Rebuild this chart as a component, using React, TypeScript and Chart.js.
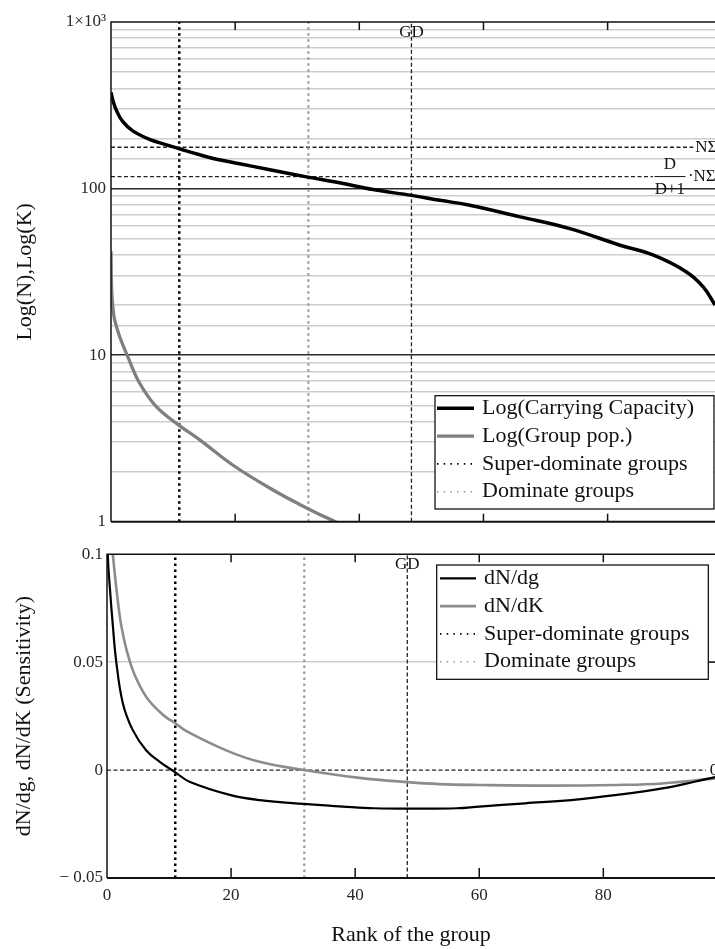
import React, { useEffect, useRef } from 'react';
import { Chart, registerables } from 'chart.js';

Chart.register(...registerables);

const SERIF = '"Liberation Serif", "Times New Roman", Times, serif';

// ---------- Top panel: Log(K) and Log(N) versus rank ----------
const rankCapacity = [0, 0.3, 0.9, 1.87, 3.5, 6.2, 8.95, 11.05, 14.3, 17, 20.7, 25, 31.5, 37, 42.2, 48.4, 53, 57.8, 65.9, 73.9, 82, 87.4, 92.7, 95.4, 97.3, 98];
const carryingCapacity = [378, 339, 293, 253, 222, 197.5, 183, 173.3, 159.5, 150, 141, 131, 117.5, 108, 98.6, 91, 85, 79.4, 67.6, 57.5, 45.7, 39.8, 31.6, 25.7, 20, 18];
const rankPopulation = [0, 0.1, 0.3, 0.6, 1.4, 2.7, 4.6, 7.3, 10.9, 14.3, 19.6, 26.1, 31.5, 36.1, 38];
const groupPopulation = [42, 25, 19.4, 16.2, 12.9, 9.8, 6.8, 4.9, 3.8, 3.1, 2.19, 1.55, 1.21, 1.0, 0.93];

// ---------- Bottom panel: sensitivities ----------
const rankDNdg = [0, 0.13, 0.5, 0.94, 1.48, 2.55, 4.16, 6.3, 8.5, 10.9, 13.3, 19.8, 24.6, 31.7, 38, 43, 50, 56.4, 60, 67.4, 74.8, 82.2, 89.5, 94.7, 98.2];
const dNdg = [0.14, 0.1, 0.083, 0.067, 0.0505, 0.031, 0.0185, 0.0092, 0.0038, -0.0008, -0.0054, -0.0115, -0.0139, -0.0157, -0.0169, -0.0177, -0.0179, -0.0177, -0.0169, -0.0154, -0.0139, -0.0115, -0.0085, -0.0054, -0.0031];
const rankDNdK = [0.6, 0.94, 2.02, 2.82, 3.63, 4.44, 5.77, 6.85, 8.47, 9.6, 11, 12.8, 19.3, 24.6, 31.7, 40.7, 48.5, 53.6, 60, 71, 82.2, 89.5, 98.2];
const dNdK = [0.115, 0.1, 0.072, 0.0596, 0.0508, 0.0442, 0.0365, 0.0319, 0.027, 0.0243, 0.0217, 0.018, 0.009, 0.0038, 0, -0.0036, -0.0056, -0.0065, -0.0069, -0.0072, -0.0069, -0.0062, -0.0038];

// ---------- Reference markers ----------
const superDominateRank = 11;
const dominateRank = 31.8;
const gdRank = 48.4;
const nSigma = 177;
const nSigmaFraction = 118;
const nSigmaLineEnd = 93.8;
const nSigmaFractionLineEnd = 87.3;
const zeroLineEnd = 96.5;

// ---------- Axes ----------
const xTickValues = [0, 20, 40, 60, 80];
const topXMax = 97.3;
const bottomXMax = 98;
const topYRange = [1, 1000];
const logTickLabels: [number, string][] = [[1, '1'], [10, '10'], [100, '100'], [1000, '1×10³']];
const bottomYRange = [-0.05, 0.1];
const sensTickLabels: [number, string][] = [[-0.05, '− 0.05'], [0, '0'], [0.05, '0.05'], [0.1, '0.1']];
const sensGridValue = 0.05;

const pts = (xs: number[], ys: number[]) => xs.map((x, i) => ({ x, y: ys[i] }));
const vline = (x: number, r: number[]) => [{ x, y: r[0] }, { x, y: r[1] }];
const hline = (y: number, x0: number, x1: number) => [{ x: x0, y }, { x: x1, y }];

const isMajorLog = (v: number) => {
  const l = Math.log10(v);
  return Math.abs(l - Math.round(l)) < 1e-7;
};

interface LegendGeo { left: number; top: number; right: number; bottom: number; row0: number; rowGap: number; s1: number; s2: number; tx: number; }
interface Deco { tickTop: number; tickBottom: number; bottomWidth: number; legend: LegendGeo; extra: (chart: any, ctx: CanvasRenderingContext2D) => void; }

function decoPlugin(d: Deco) {
  return {
    id: 'deco',
    afterDraw(chart: any) {
      const ctx: CanvasRenderingContext2D = chart.ctx;
      const { left, right, top, bottom } = chart.chartArea;
      const xs = chart.scales.x;
      ctx.save();
      ctx.setLineDash([]);
      ctx.strokeStyle = '#111';
      ctx.lineWidth = 1.5;
      ctx.beginPath();
      ctx.moveTo(left, bottom);
      ctx.lineTo(left, top);
      ctx.lineTo(right + 2, top);
      ctx.stroke();
      ctx.lineWidth = d.bottomWidth;
      ctx.beginPath();
      ctx.moveTo(left, bottom);
      ctx.lineTo(right + 2, bottom);
      ctx.stroke();
      ctx.lineWidth = 1.5;
      ctx.beginPath();
      xTickValues.forEach((v) => {
        if (v <= xs.min) return;
        const px = xs.getPixelForValue(v);
        ctx.moveTo(px, top);
        ctx.lineTo(px, top + d.tickTop);
        ctx.moveTo(px, bottom);
        ctx.lineTo(px, bottom - d.tickBottom);
      });
      ctx.stroke();

      d.extra(chart, ctx);

      // legend
      const L = d.legend;
      ctx.setLineDash([]);
      ctx.fillStyle = '#fff';
      ctx.fillRect(L.left, L.top, L.right - L.left, L.bottom - L.top);
      ctx.strokeStyle = '#000';
      ctx.lineWidth = 1.2;
      ctx.strokeRect(L.left, L.top, L.right - L.left, L.bottom - L.top);
      const items = chart.data.datasets.filter((ds: any) => ds.inLegend);
      items.forEach((ds: any, i: number) => {
        const y = L.row0 + i * L.rowGap;
        ctx.strokeStyle = ds.borderColor;
        ctx.lineWidth = ds.legendWidth ?? ds.borderWidth;
        ctx.setLineDash(ds.legendDash ?? ds.borderDash ?? []);
        ctx.beginPath();
        ctx.moveTo(L.s1, y);
        ctx.lineTo(L.s2, y);
        ctx.stroke();
        ctx.setLineDash([]);
        ctx.fillStyle = '#111';
        ctx.font = `22px ${SERIF}`;
        ctx.textAlign = 'left';
        ctx.textBaseline = 'middle';
        ctx.fillText(ds.label, L.tx, y);
      });
      ctx.restore();
    },
  };
}

const dotted = [2.5, 3.5];
const dashed = [4, 2.5];
const SMOOTH = 0.4;

function topConfig(): any {
  return {
    type: 'line',
    data: {
      datasets: [
        { label: 'Log(Carrying Capacity)', data: pts(rankCapacity, carryingCapacity), borderColor: '#000', borderWidth: 3.5, tension: SMOOTH, inLegend: true },
        { label: 'Log(Group pop.)', data: pts(rankPopulation, groupPopulation), borderColor: '#7f7f7f', borderWidth: 3.3, tension: SMOOTH, inLegend: true },
        { label: 'Super-dominate groups', data: vline(superDominateRank, topYRange), borderColor: '#000', borderWidth: 2.5, borderDash: dotted, inLegend: true, legendWidth: 1.6, legendDash: [1.5, 5.2] },
        { label: 'Dominate groups', data: vline(dominateRank, topYRange), borderColor: '#9a9a9a', borderWidth: 2.2, borderDash: dotted, inLegend: true, legendWidth: 1.6, legendDash: [1.5, 5.2] },
        { label: 'GD', data: vline(gdRank, topYRange), borderColor: '#222', borderWidth: 1.3, borderDash: dashed },
        { label: 'NΣ', data: hline(nSigma, 0, nSigmaLineEnd), borderColor: '#222', borderWidth: 1.3, borderDash: dashed },
        { label: 'D/(D+1)·NΣ', data: hline(nSigmaFraction, 0, nSigmaFractionLineEnd), borderColor: '#222', borderWidth: 1.3, borderDash: dashed },
      ],
    },
    options: {
      responsive: false,
      animation: false,
      events: [],
      layout: { padding: { top: 22, bottom: 18.3, left: 0, right: 0 } },
      plugins: { legend: { display: false }, tooltip: { enabled: false } },
      elements: { point: { radius: 0 }, line: { tension: 0 } },
      datasets: { line: { clip: 0 } },
      scales: {
        x: {
          type: 'linear', min: 0, max: topXMax, display: false,
          afterBuildTicks: (s: any) => { s.ticks = xTickValues.map((v) => ({ value: v })); },
        },
        y: {
          type: 'logarithmic', min: topYRange[0], max: topYRange[1],
          afterFit: (s: any) => { s.width = 111; },
          border: { display: false },
          grid: {
            drawTicks: false,
            lineWidth: 1.5,
            color: (c: any) => {
              const v = c.tick?.value;
              if (v == null || v <= topYRange[0] * 1.0001 || v >= topYRange[1] * 0.9999) return 'rgba(0,0,0,0)';
              return isMajorLog(v) ? '#2a2a2a' : '#cdcdcd';
            },
          },
          ticks: {
            autoSkip: false,
            padding: 5,
            color: '#262626',
            font: { family: SERIF, size: 17 },
            callback: (v: any) => {
              const f = logTickLabels.find(([t]) => Math.abs(t - Number(v)) / t < 1e-6);
              return f ? f[1] : '';
            },
          },
          title: { display: true, text: 'Log(N),Log(K)', color: '#111', font: { family: SERIF, size: 22 }, padding: { top: 12, bottom: 0 } },
        },
      },
    },
    plugins: [
      decoPlugin({
        tickTop: 8, tickBottom: 8, bottomWidth: 2,
        legend: { left: 435, top: 395.7, right: 714, bottom: 509, row0: 408.3, rowGap: 27.8, s1: 437, s2: 474, tx: 482 },
        extra: (chart, ctx) => {
          const xs = chart.scales.x, ys = chart.scales.y;
          ctx.fillStyle = '#111';
          ctx.font = `17px ${SERIF}`;
          ctx.textBaseline = 'middle';
          ctx.textAlign = 'center';
          ctx.fillText('GD', xs.getPixelForValue(gdRank), chart.chartArea.top + 11);
          ctx.textAlign = 'left';
          ctx.fillText('NΣ', xs.getPixelForValue(nSigmaLineEnd) + 2, ys.getPixelForValue(nSigma));
          const fx = xs.getPixelForValue(nSigmaFractionLineEnd) + 17;
          const fy = ys.getPixelForValue(nSigmaFraction);
          ctx.textAlign = 'center';
          ctx.fillText('D', fx, fy - 12.5);
          ctx.fillText('D+1', fx, fy + 12.5);
          ctx.strokeStyle = '#111';
          ctx.lineWidth = 1;
          ctx.beginPath();
          ctx.moveTo(fx - 15.5, fy);
          ctx.lineTo(fx + 15.5, fy);
          ctx.stroke();
          ctx.textAlign = 'left';
          ctx.fillText('·NΣ', fx + 18, fy);
        },
      }),
    ],
  };
}

function bottomConfig(): any {
  return {
    type: 'line',
    data: {
      datasets: [
        { label: 'dN/dg', data: pts(rankDNdg, dNdg), borderColor: '#000', borderWidth: 2.2, tension: SMOOTH, inLegend: true },
        { label: 'dN/dK', data: pts(rankDNdK, dNdK), borderColor: '#8c8c8c', borderWidth: 2.6, tension: SMOOTH, inLegend: true },
        { label: 'Super-dominate groups', data: vline(superDominateRank, bottomYRange), borderColor: '#000', borderWidth: 2.5, borderDash: dotted, inLegend: true, legendWidth: 1.6, legendDash: [1.5, 5.2] },
        { label: 'Dominate groups', data: vline(dominateRank, bottomYRange), borderColor: '#9a9a9a', borderWidth: 2.2, borderDash: dotted, inLegend: true, legendWidth: 1.6, legendDash: [1.5, 5.2] },
        { label: 'GD', data: vline(gdRank, bottomYRange), borderColor: '#222', borderWidth: 1.3, borderDash: dashed },
        { label: 'zero', data: hline(0, 0, zeroLineEnd), borderColor: '#222', borderWidth: 1.3, borderDash: dashed },
      ],
    },
    options: {
      responsive: false,
      animation: false,
      events: [],
      layout: { padding: { top: 13, bottom: 0, left: 0, right: 0 } },
      plugins: { legend: { display: false }, tooltip: { enabled: false } },
      elements: { point: { radius: 0 }, line: { tension: 0 } },
      datasets: { line: { clip: 0 } },
      scales: {
        x: {
          type: 'linear', min: 0, max: bottomXMax,
          afterBuildTicks: (s: any) => { s.ticks = xTickValues.map((v) => ({ value: v })); },
          afterFit: (s: any) => { s.height = 71; },
          grid: { display: false, drawTicks: false },
          border: { display: false },
          ticks: { autoSkip: false, maxRotation: 0, padding: 7, color: '#262626', font: { family: SERIF, size: 17 }, callback: (v: any) => String(v) },
          title: { display: true, text: 'Rank of the group', color: '#111', font: { family: SERIF, size: 22 }, padding: { top: 4, bottom: 1 } },
        },
        y: {
          type: 'linear', min: bottomYRange[0], max: bottomYRange[1],
          afterBuildTicks: (s: any) => { s.ticks = sensTickLabels.map(([v]) => ({ value: v })); },
          afterFit: (s: any) => { s.width = 107; },
          border: { display: false },
          grid: {
            drawTicks: false,
            lineWidth: 1.5,
            color: (c: any) => (c.tick && Math.abs(c.tick.value - sensGridValue) < 1e-9 ? '#cdcdcd' : 'rgba(0,0,0,0)'),
          },
          ticks: {
            autoSkip: false,
            padding: 4,
            color: '#262626',
            font: { family: SERIF, size: 17 },
            callback: (v: any) => {
              const f = sensTickLabels.find(([t]) => Math.abs(t - Number(v)) < 1e-9);
              return f ? f[1] : '';
            },
          },
          title: { display: true, text: 'dN/dg, dN/dK (Sensitivity)', color: '#111', font: { family: SERIF, size: 22 }, padding: { top: 11, bottom: 0 } },
        },
      },
    },
    plugins: [
      decoPlugin({
        tickTop: 8, tickBottom: 10, bottomWidth: 2,
        legend: { left: 436.7, top: 25, right: 708.3, bottom: 139.3, row0: 38.3, rowGap: 27.8, s1: 440, s2: 476, tx: 484 },
        extra: (chart, ctx) => {
          const xs = chart.scales.x, ys = chart.scales.y;
          const { right, top } = chart.chartArea;
          ctx.fillStyle = '#111';
          ctx.font = `17px ${SERIF}`;
          ctx.textBaseline = 'middle';
          ctx.textAlign = 'center';
          ctx.fillText('GD', xs.getPixelForValue(gdRank), top + 10);
          ctx.textAlign = 'left';
          ctx.fillText('0', xs.getPixelForValue(zeroLineEnd) + 4, ys.getPixelForValue(0));
          ctx.strokeStyle = '#111';
          ctx.lineWidth = 1.5;
          ctx.beginPath();
          const gy = ys.getPixelForValue(sensGridValue);
          ctx.moveTo(right - 6, gy);
          ctx.lineTo(right, gy);
          ctx.stroke();
        },
      }),
    ],
  };
}

export default function App() {
  const topRef = useRef<HTMLCanvasElement>(null);
  const botRef = useRef<HTMLCanvasElement>(null);
  useEffect(() => {
    const c1 = new Chart(topRef.current as HTMLCanvasElement, topConfig());
    const c2 = new Chart(botRef.current as HTMLCanvasElement, bottomConfig());
    return () => {
      c1.destroy();
      c2.destroy();
    };
  }, []);
  return (
    <div style={{ position: 'absolute', left: 0, top: 0, width: 715, height: 949, background: '#fff', overflow: 'hidden' }}>
      <canvas ref={topRef} width={715} height={540} style={{ position: 'absolute', left: 0, top: 0, width: 715, height: 540 }} />
      <canvas ref={botRef} width={715} height={409} style={{ position: 'absolute', left: 0, top: 540, width: 715, height: 409 }} />
    </div>
  );
}
